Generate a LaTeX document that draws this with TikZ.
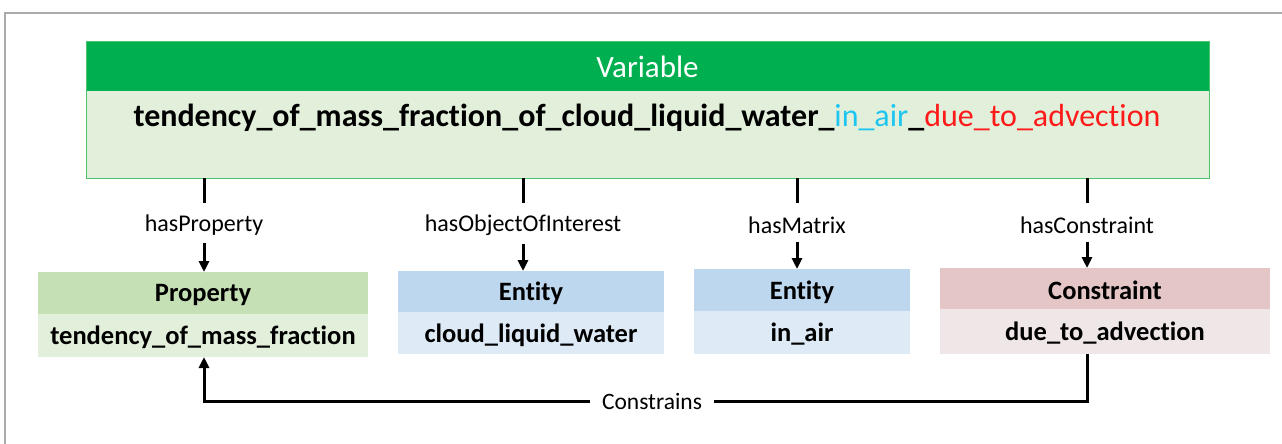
\documentclass[tikz,border=0pt]{standalone}
\usepackage{fontspec}
\setmainfont{Carlito}[Ligatures={TeX,NoCommon}]
\usetikzlibrary{arrows.meta}
\definecolor{vhead}{HTML}{00B050}
\definecolor{vbody}{HTML}{E2EFDA}
\definecolor{vborder}{HTML}{4CC46C}
\definecolor{phead}{HTML}{C5E0B4}
\definecolor{pbody}{HTML}{E2EFDA}
\definecolor{ehead}{HTML}{BDD7EE}
\definecolor{ebody}{HTML}{DEEBF7}
\definecolor{chead}{HTML}{E5C6C6}
\definecolor{cbody}{HTML}{EFE7E7}
\definecolor{cyantext}{HTML}{1CC6F0}
\definecolor{redtext}{HTML}{FF1A1A}
\definecolor{framegray}{HTML}{AAAAAA}
\tikzset{
  boxpart/.style={anchor=north west, inner sep=0pt, outer sep=0pt, draw=none},
  boxtext/.style={font=\fontsize{26.5}{30}\selectfont\bfseries, yshift=-2pt},
  rellabel/.style={font=\fontsize{24}{28}\selectfont, inner sep=0pt},
  conn/.style={line width=3pt, black},
  connarrow/.style={line width=3pt, black, -{Triangle[width=10pt,length=11pt]}},
}
\begin{document}
\begin{tikzpicture}[x=1pt,y=-1pt]
\useasboundingbox (0,0) rectangle (1282,444);
% frame
\draw[framegray, line width=1.2pt] (5,460) -- (5,13) -- (1290,13);
% Variable box
\node[boxpart, fill=vhead, minimum width=1123pt, minimum height=49pt] (vh) at (86,42) {};
\node[boxpart, fill=vbody, minimum width=1123pt, minimum height=87pt] (vb) at (86,91) {};
\draw[vborder, line width=1pt] (vh.north west) rectangle (vb.south east);
\node[font=\fontsize{31}{36}\selectfont, text=white] (vt) at (vh.center) {Variable};
\node[font=\fontsize{32}{38}\selectfont\bfseries, anchor=center] (vn) at (647,118)
  {tendency\_of\_mass\_fraction\_of\_cloud\_liquid\_water\_\textcolor{cyantext}{\mdseries in\_air}\_\textcolor{redtext}{\mdseries due\_to\_advection}};
% lower boxes
\node[boxpart, fill=phead, minimum width=330pt, minimum height=42pt] (ph) at (38,272) {};
\node[boxpart, fill=pbody, minimum width=330pt, minimum height=43pt] (pb) at (38,314) {};
\node[boxtext] at (ph.center) {Property};
\node[boxtext] at (pb.center) {tendency\_of\_mass\_fraction};

\node[boxpart, fill=ehead, minimum width=266pt, minimum height=41pt] (e1h) at (398,271) {};
\node[boxpart, fill=ebody, minimum width=266pt, minimum height=42pt] (e1b) at (398,312) {};
\node[boxtext] at (e1h.center) {Entity};
\node[boxtext] at (e1b.center) {cloud\_liquid\_water};

\node[boxpart, fill=ehead, minimum width=216pt, minimum height=42pt] (e2h) at (694,269) {};
\node[boxpart, fill=ebody, minimum width=216pt, minimum height=43pt] (e2b) at (694,311) {};
\node[boxtext] at (e2h.center) {Entity};
\node[boxtext] at (e2b.center) {in\_air};

\node[boxpart, fill=chead, minimum width=330pt, minimum height=41pt] (ch) at (940,268) {};
\node[boxpart, fill=cbody, minimum width=330pt, minimum height=45pt] (cb) at (940,309) {};
\node[boxtext] at (ch.center) {Constraint};
\node[boxtext] at (cb.center) {due\_to\_advection};

% relation labels
\node[rellabel] (l1) at (204,225) {hasProperty};
\node[rellabel] (l2) at (523,225) {hasObjectOfInterest};
\node[rellabel] (l3) at (797,225) {hasMatrix};
\node[rellabel] (l4) at (1087,225) {hasConstraint};
\foreach \l/\t in {l1/ph, l2/e1h, l3/e2h, l4/ch}{
  \draw[conn] (vb.south -| \l) -- ++(0,25);
  \draw[connarrow] ([yshift=-8pt]\l.south) -- (\t.north -| \l);
}
% constrains loop
\coordinate (cr) at (1087,401);
\coordinate (cl) at (204,401);
\node[font=\fontsize{23.5}{28}\selectfont, fill=white, inner xsep=12pt, inner ysep=2pt] (cons) at (652,401) {Constrains};
\draw[conn] (cb.south -| cr) -- (cr) -- (cons.east);
\draw[connarrow] (cons.west) -- (cl) -- (pb.south -| cl);
\end{tikzpicture}
\end{document}
